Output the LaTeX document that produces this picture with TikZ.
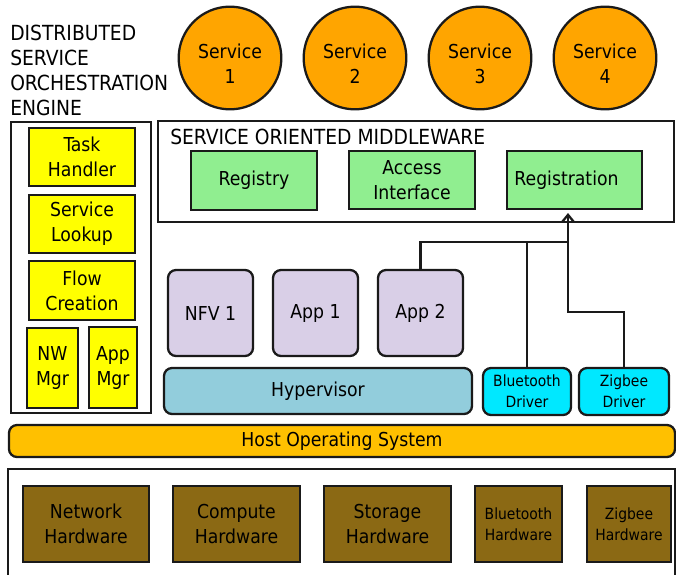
\documentclass[tikz,border=0pt]{standalone}
\usepackage{fontspec}
\setmainfont{DejaVu Sans Condensed}
\usetikzlibrary{arrows.meta}
\definecolor{linec}{HTML}{1A1A1A}
\definecolor{svcorange}{HTML}{FFA500}
\definecolor{orchyellow}{HTML}{FFFF00}
\definecolor{mwgreen}{HTML}{90EE90}
\definecolor{applav}{HTML}{D9CFE7}
\definecolor{hypblue}{HTML}{92CDDC}
\definecolor{drvcyan}{HTML}{00E8FF}
\definecolor{osamber}{HTML}{FFC000}
\definecolor{hwbrown}{HTML}{8B6914}
\tikzset{
  base/.style={draw=linec, line width=1.7pt, inner sep=0pt, align=center, text=black,
    font=\fontsize{14.4pt}{18.75pt}\selectfont},
  smalltext/.style={font=\fontsize{11.6pt}{16pt}\selectfont},
  frame/.style={base, fill=white},
  orchbox/.style={base, fill=orchyellow},
  mwbox/.style={base, fill=mwgreen},
  appbox/.style={base, fill=applav, rounded corners=6pt},
  hypbox/.style={base, fill=hypblue, rounded corners=6pt},
  drvbox/.style={base, fill=drvcyan, rounded corners=6pt, smalltext},
  osbox/.style={base, fill=osamber, rounded corners=6pt},
  hwbox/.style={base, fill=hwbrown},
  svc/.style={base, circle, fill=svcorange, minimum size=77pt},
  plain/.style={inner sep=0pt, text=black, font=\fontsize{14.4pt}{18.75pt}\selectfont},
  capstext/.style={inner sep=0pt, text=black, font=\fontsize{15.6pt}{18.75pt}\selectfont},
  conn/.style={draw=linec, line width=1.7pt},
  arr/.style={conn, -{Straight Barb[length=5.5pt,width=9pt]}}
}
\newcommand\bx[7]{\node[#6, minimum width={(#4-#2)*0.75pt}, minimum height={(#5-#3)*0.75pt}] (#1) at ({(#2+#4)/2},{(#3+#5)/2}) {#7};}
\begin{document}
\begin{tikzpicture}[x=0.75pt,y=-0.75pt]
\useasboundingbox (0,0) rectangle (676,575);
% title
\node[capstext, anchor=north west, align=left] (title) at (10,25) {DISTRIBUTED\\SERVICE\\ORCHESTRATION\\ENGINE};
% services
\foreach \i/\cx in {1/230,2/355,3/480,4/605}{
  \node[svc] (s\i) at (\cx,58) {};
  \node[plain, align=center] (s\i t) at (\cx,64) {Service\\\i};
}
% orchestration engine
\bx{orch}{11}{122}{151}{413}{frame}{}
\bx{task}{29}{128}{135}{186}{orchbox}{Task\\Handler}
\bx{look}{29}{195}{135}{253}{orchbox}{Service\\Lookup}
\bx{flow}{29}{261}{135}{320}{orchbox}{Flow\\Creation}
\bx{nwm}{27}{328}{78}{408}{orchbox}{NW\\Mgr}
\bx{apm}{89}{327}{137}{408}{orchbox}{App\\Mgr}
% middleware
\bx{mw}{158}{121}{674}{222}{frame}{}
\node[capstext, anchor=north west] (mwt) at (170,129) {SERVICE ORIENTED MIDDLEWARE};
\bx{reg}{191}{151}{317}{210}{mwbox}{Registry}
\bx{acc}{349}{151}{475}{209}{mwbox}{Access\\Interface}
\bx{rgn}{507}{151}{642}{209}{mwbox}{Registration\hspace*{12pt}}
% apps
\bx{nfv}{168}{270}{253}{356}{appbox}{NFV 1}
\bx{app1}{273}{270}{358}{356}{appbox}{App 1}
\bx{app2}{378}{270}{463}{356}{appbox}{App 2}
\bx{hyp}{164}{368}{472}{414}{hypbox}{Hypervisor}
\bx{btd}{483}{368}{571}{415}{drvbox}{Bluetooth\\Driver}
\bx{zgd}{579}{368}{669}{415}{drvbox}{Zigbee\\Driver}
% host OS
\bx{os}{9}{425}{675}{457}{osbox}{Host Operating System}
% hardware
\draw[conn] (8,576) -- (8,469) -- (675,469) -- (675,576);
\bx{nwh}{23}{486}{149}{562}{hwbox}{Network\\Hardware}
\bx{cph}{173}{486}{300}{562}{hwbox}{Compute\\Hardware}
\bx{sth}{324}{486}{451}{562}{hwbox}{Storage\\Hardware}
\bx{bth}{475}{486}{562}{562}{hwbox,smalltext}{Bluetooth\\Hardware}
\bx{zgh}{587}{486}{671}{562}{hwbox,smalltext}{Zigbee\\Hardware}
% connectors
\coordinate (j) at (568,242);
\coordinate (k) at (568,312);
\coordinate (tip) at (568,213);
\draw[conn] (app2.north) |- (j);
\draw[conn] (btd.north) -- (btd.north |- j);
\draw[arr] (zgd.north) |- (k) -- (tip);
\end{tikzpicture}
\end{document}
